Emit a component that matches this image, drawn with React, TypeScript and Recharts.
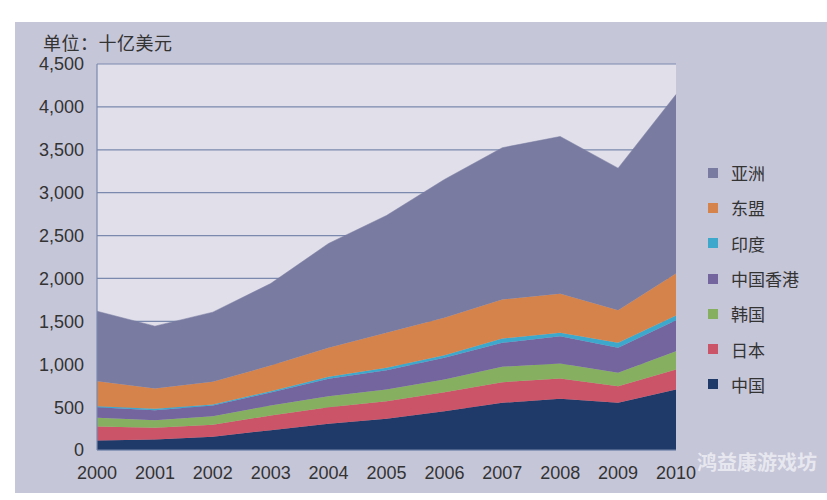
import React from 'react';
import { AreaChart, Area, XAxis, YAxis, CartesianGrid } from 'recharts';

// Trade values by economy, billions of US dollars (stacked)
const years = ['2000', '2001', '2002', '2003', '2004', '2005', '2006', '2007', '2008', '2009', '2010'];
const china = [111, 122, 154, 231, 305, 364, 452, 550, 597, 550, 705];
const japan = [163, 137, 140, 171, 194, 205, 222, 240, 237, 194, 234];
const korea = [101, 88, 100, 117, 128, 136, 148, 180, 175, 156, 213];
const hongKong = [124, 117, 125, 151, 203, 226, 253, 280, 318, 292, 362];
const india = [12, 16, 12, 16, 23, 27, 30, 50, 40, 58, 54];
const asean = [291, 237, 264, 299, 339, 409, 436, 455, 454, 380, 490];
const asia = [816, 727, 812, 956, 1216, 1367, 1613, 1769, 1834, 1656, 2087];
const yTicks = [0, 500, 1000, 1500, 2000, 2500, 3000, 3500, 4000, 4500];

// Bottom-to-top stacking order
const series = [
  { key: 'china', name: '中国', color: '#1f3a68', values: china },
  { key: 'japan', name: '日本', color: '#cb5468', values: japan },
  { key: 'korea', name: '韩国', color: '#86b060', values: korea },
  { key: 'hongKong', name: '中国香港', color: '#74659e', values: hongKong },
  { key: 'india', name: '印度', color: '#3ea8cc', values: india },
  { key: 'asean', name: '东盟', color: '#d5834a', values: asean },
  { key: 'asia', name: '亚洲', color: '#797ba0', values: asia },
];

const data = years.map((year, i) => {
  const row: Record<string, string | number> = { year };
  series.forEach((s) => {
    row[s.key] = s.values[i];
  });
  return row;
});

const FONT = '"Liberation Sans", "Noto Sans CJK SC", sans-serif';
const CJK = '"Noto Sans CJK SC", sans-serif';
const GRID = '#7a89ad';

const LegendList = () => (
  <div
    style={{
      position: 'absolute',
      left: 708,
      top: 155,
      width: 115,
      fontFamily: CJK,
      fontSize: 17,
      color: '#333',
    }}
  >
    {[...series].reverse().map((s) => (
      <div key={s.key} style={{ display: 'flex', alignItems: 'center', height: 35.3 }}>
        <span style={{ display: 'inline-block', width: 10, height: 10, background: s.color, marginRight: 13 }} />
        <span>{s.name}</span>
      </div>
    ))}
  </div>
);

export default function App() {
  return (
    <div style={{ position: 'absolute', left: 0, top: 0, width: 827, height: 500, background: '#ffffff' }}>
      <div style={{ position: 'absolute', left: 15, top: 22, width: 812, height: 471, background: '#c6c6d9' }} />
      <div
        style={{
          position: 'absolute',
          left: 43,
          top: 29,
          fontFamily: CJK,
          fontSize: 18,
          letterSpacing: 0.5,
          color: '#333',
          lineHeight: '26px',
          whiteSpace: 'pre',
        }}
      >
        单位：十亿美元
      </div>
      <AreaChart
        width={827}
        height={500}
        data={data}
        margin={{ top: 64, right: 151, bottom: 20, left: 37 }}
        style={{ position: 'absolute', left: 0, top: 0 }}
      >
        <CartesianGrid vertical={false} stroke={GRID} strokeWidth={1.2} fill="#e0dfea" fillOpacity={1} />
        <XAxis
          dataKey="year"
          height={30}
          tickLine={false}
          axisLine={{ stroke: GRID }}
          tick={{ fill: '#333', fontSize: 18, fontFamily: FONT }}
          tickMargin={10}
          interval={0}
        />
        <YAxis
          width={60}
          domain={[0, 4500]}
          ticks={yTicks}
          tickLine={false}
          axisLine={{ stroke: GRID, strokeWidth: 1.2 }}
          tick={{ fill: '#333', fontSize: 18, fontFamily: FONT }}
          tickMargin={7}
          tickFormatter={(v: number) => v.toLocaleString('en-US')}
          interval={0}
        />
        {series.map((s) => (
          <Area
            key={s.key}
            type="linear"
            dataKey={s.key}
            name={s.name}
            stackId="trade"
            stroke={s.color}
            strokeWidth={0.5}
            fill={s.color}
            fillOpacity={1}
            isAnimationActive={false}
          />
        ))}
      </AreaChart>
      <LegendList />
      <div
        style={{
          position: 'absolute',
          left: 697,
          top: 449,
          fontFamily: CJK,
          fontWeight: 700,
          fontSize: 20,
          color: 'rgba(255,255,255,0.6)',
          lineHeight: '26px',
        }}
      >
        鸿益康游戏坊
      </div>
    </div>
  );
}
